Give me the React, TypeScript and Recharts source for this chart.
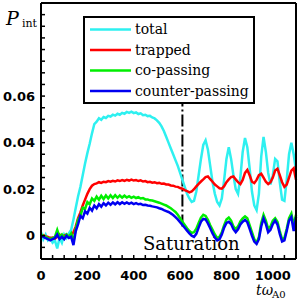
import { Customized, Legend, Line, LineChart, ReferenceLine, XAxis, YAxis } from "recharts";

// sampled every T_STEP in t·ω_A0, values in units of 1e-3
const T_STEP = 10;

const total = [
  1.5, -1.5, 0.5, -2, -1, -3, -2, -5.5, -1, -3,
  0.5, -1, 1, 2.5, 7, 12, 17, 21, 26, 31,
  35.5, 39.5, 44, 48, 49, 50.5, 49.8, 51, 50.6, 51.5,
  51.2, 52, 51.6, 52.4, 52, 52.8, 52.4, 53.2, 52.8, 53.3,
  52.7, 53, 52.3, 52.6, 51.8, 52, 51.4, 51.5, 50.8, 50.4,
  49.6, 48.5, 47, 45, 42.5, 40, 37.5, 35, 32.5, 30,
  27, 24, 21, 18, 16, 14.5, 15, 19, 26, 33,
  39, 41, 37, 30, 23, 18, 14.5, 13, 16, 24,
  33, 38, 33, 26, 20, 18, 25, 36, 42, 38,
  29, 19, 13, 11, 18, 34, 42.5, 36, 27, 22,
  26, 33, 32, 23, 15.5, 15, 24, 35, 40, 35,
  28,
];

const trapped = [
  0, 0.3, -0.3, -0.5, -1, -0.8, -1.2, -0.5, 0.5, -0.5,
  0, 0.5, -0.5, 0, 1.5, 4, 7.5, 10, 13, 15.5,
  18, 20, 21.5, 22.2, 22.5, 23, 22.7, 23.2, 23, 23.5,
  23.2, 23.6, 23.3, 23.8, 23.5, 23.9, 23.6, 24, 23.7, 24.1,
  23.7, 23.9, 23.5, 23.8, 23.3, 23.5, 23, 23.2, 22.8, 23,
  22.6, 22.7, 22.3, 22.4, 22, 22, 21.6, 21.5, 21.1, 21,
  20.5, 20.2, 19.6, 19.2, 18.6, 19, 20, 21.2, 22.3, 23.3,
  24.2, 25.2, 25.5, 24.3, 23.2, 22, 21.2, 20.4, 20.2, 21.3,
  23, 24.2, 25.2, 25.5, 24.2, 23, 22.2, 24, 27, 28.3,
  26, 23.2, 22.6, 24, 26, 26.6, 25, 23.2, 22.2, 23,
  25, 28, 28.8, 26, 23, 21, 22, 25, 28, 29,
  24,
];

const coPassing = [
  0.5, 0, -0.5, -1, -1.5, -1, -0.5, 2.5, -0.5, 0.5,
  -1, 0.5, -0.5, 1, -2.5, 3, 7, 8.5, 12, 11.5,
  14.5, 13.5, 16, 15, 16.8, 15.5, 17.2, 15.8, 17.3, 16,
  17.4, 16.2, 17.4, 16.3, 17.3, 16.4, 17.2, 16.4, 17, 16.3,
  16.8, 16.2, 16.6, 16, 16.2, 15.6, 15.6, 15.2, 15.1, 14.8,
  14.5, 14.2, 13.8, 13.4, 13, 12.4, 11.8, 11, 10.2, 9,
  7.5, 6, 4.6, 3.2, 2, 1.2, 1.5, 3, 5.5, 7.8,
  9, 8.5, 6.8, 4.5, 2.5, 0.5, -1, -0.5, 1.5, 4.5,
  7, 7.8, 6.5, 4, 2.8, 4, 6.2, 7.5, 8.3, 7.5,
  4.5, 1.5, -1.5, -3, -0.5, 5.5, 9, 6.5, 3, 4,
  6.5, 7.5, 6, 2, -1.5, -1, 3, 7.5, 9.5, 4.5,
  9,
];

const counterPassing = [
  0, -0.5, -1, -1.5, -2, -1.5, -1, 0.5, -1.5, -0.5,
  -1.5, 0, -1, -0.5, -4, 2, 5, 8.5, 7.5, 10.5,
  9.5, 12, 10.8, 13, 11.8, 13.6, 12.5, 14, 13, 14.2,
  13.3, 14.3, 13.5, 14.4, 13.6, 14.4, 13.7, 14.3, 13.7, 14.2,
  13.6, 14, 13.5, 13.7, 13.2, 13.3, 13, 12.9, 12.6, 12.4,
  12.2, 11.8, 11.5, 11, 10.6, 10.2, 9.6, 8.9, 8, 7,
  5.8, 4.6, 3.4, 2.2, 1, 0, -0.5, 0.8, 3.5, 6,
  7.2, 7, 5.3, 3.2, 1, -0.8, -2, -1.5, 0.5, 3.5,
  5.5, 6, 5, 2.8, 1.5, 2.8, 4.8, 6, 6.8, 5.8,
  3, 0, -2.5, -3.5, -1.5, 4, 7.5, 5, 1.5, 2.5,
  5, 6.5, 4.8, 0.8, -2.5, -2, 2, 6.5, 8, 2,
  8,
];

const seriesKeys = ["total", "trapped", "coPassing", "counterPassing"];
const seriesNames = ["total", "trapped", "co-passing", "counter-passing"];
const seriesColors = ["#2ef0f0", "#ff0000", "#00ee00", "#0000f0"];

const xTicks = [
  0, 50, 100, 150, 200, 250, 300, 350, 400, 450, 500, 550,
  600, 650, 700, 750, 800, 850, 900, 950, 1000, 1050, 1100,
];
const xLabelTicks = [0, 200, 400, 600, 800, 1000];
const yTicks = [
  -0.01, -0.005, 0, 0.005, 0.01, 0.015, 0.02, 0.025, 0.03, 0.035, 0.04, 0.045,
  0.05, 0.055, 0.06, 0.065, 0.07, 0.075, 0.08, 0.085, 0.09, 0.095, 0.1,
];
const yLabelTicks = [0, 0.02, 0.04, 0.06];
const saturationT = 610;

const data = total.map((v, i) => ({
  t: i * T_STEP,
  total: v / 1000,
  trapped: trapped[i] / 1000,
  coPassing: coPassing[i] / 1000,
  counterPassing: counterPassing[i] / 1000,
}));

const tickFont = { fill: "#000", fontFamily: "DejaVu Sans", fontWeight: "bold", fontSize: 13 };
const serif = "DejaVu Serif";
const frame = { stroke: "#000", strokeWidth: 2 };
const tickStroke = { stroke: "#000", strokeWidth: 1.5 };

function LegendBox() {
  return (
    <svg width={172} height={88} style={{ display: "block" }}>
      <rect x={1} y={1} width={170} height={86} fill="#fff" stroke="#000" strokeWidth={2} />
      {seriesNames.map((name, i) => {
        const y = 13.5 + i * 20.5;
        return (
          <g key={name}>
            <line x1={7} x2={48} y1={y} y2={y} stroke={seriesColors[i]} strokeWidth={2.5} />
            <text x={52} y={y + 4.5} fontFamily={serif} fontSize={14} fill="#000">
              {name}
            </text>
          </g>
        );
      })}
    </svg>
  );
}

function Annotations() {
  return (
    <g>
      <text x={143} y={250} fontFamily={serif} fontSize={18} fill="#000">Saturation</text>
      <text x={6} y={25} fontFamily={serif} fontStyle="italic" fontSize={19} fill="#000">P</text>
      <text x={22} y={27} fontFamily={serif} fontSize={11} fill="#000">int</text>
      <text x={256} y={295} fontFamily={serif} fontStyle="italic" fontSize={14} fill="#000">tω</text>
      <text x={272} y={298} fontFamily={serif} fontSize={10} fill="#000">A0</text>
    </g>
  );
}

export default function App() {
  const fmtX = (v: number) => (xLabelTicks.includes(v) ? String(v) : "");
  const fmtY = (v: number) =>
    yLabelTicks.some((l) => Math.abs(l - v) < 1e-9) ? (v === 0 ? "0" : v.toFixed(2)) : "";

  return (
    <div style={{ position: "absolute", left: 0, top: 0, width: 300, height: 300, background: "#fff" }}>
      <LineChart width={300} height={300} data={data} margin={{ top: 0, right: 0, bottom: 0, left: 0 }}>
        <XAxis
          dataKey="t"
          type="number"
          domain={[0, 1100]}
          ticks={xTicks}
          interval={0}
          height={41}
          tickSize={-4}
          tickMargin={16}
          tickFormatter={fmtX}
          tick={tickFont}
          axisLine={frame}
          tickLine={tickStroke}
        />
        <XAxis
          xAxisId="top"
          orientation="top"
          dataKey="t"
          type="number"
          domain={[0, 1100]}
          ticks={xTicks}
          interval={0}
          height={3}
          tickSize={-4}
          tick={false}
          axisLine={frame}
          tickLine={tickStroke}
        />
        <YAxis
          type="number"
          domain={[-0.01, 0.1]}
          allowDataOverflow
          ticks={yTicks}
          interval={0}
          width={41}
          tickSize={-4}
          tickMargin={10}
          tickFormatter={fmtY}
          tick={tickFont}
          axisLine={frame}
          tickLine={tickStroke}
        />
        <YAxis
          yAxisId="right"
          orientation="right"
          type="number"
          domain={[-0.01, 0.1]}
          allowDataOverflow
          ticks={yTicks}
          interval={0}
          width={4}
          tickSize={-4}
          tick={false}
          axisLine={frame}
          tickLine={tickStroke}
        />
        <ReferenceLine
          segment={[
            { x: saturationT, y: 0.004 },
            { x: saturationT, y: 0.057 },
          ]}
          stroke="#000"
          strokeWidth={2}
          strokeDasharray="12 3 2 3"
        />
        {seriesKeys.map((k, i) => (
          <Line
            key={k}
            dataKey={k}
            name={seriesNames[i]}
            stroke={seriesColors[i]}
            strokeWidth={2.5}
            dot={false}
            type="linear"
            isAnimationActive={false}
          />
        ))}
        <Customized component={Annotations} />
        <Legend
          layout="horizontal"
          align="center"
          verticalAlign="middle"
          content={LegendBox}
          wrapperStyle={{ left: 83, top: 16, width: 172, height: 88 }}
        />
      </LineChart>
    </div>
  );
}
